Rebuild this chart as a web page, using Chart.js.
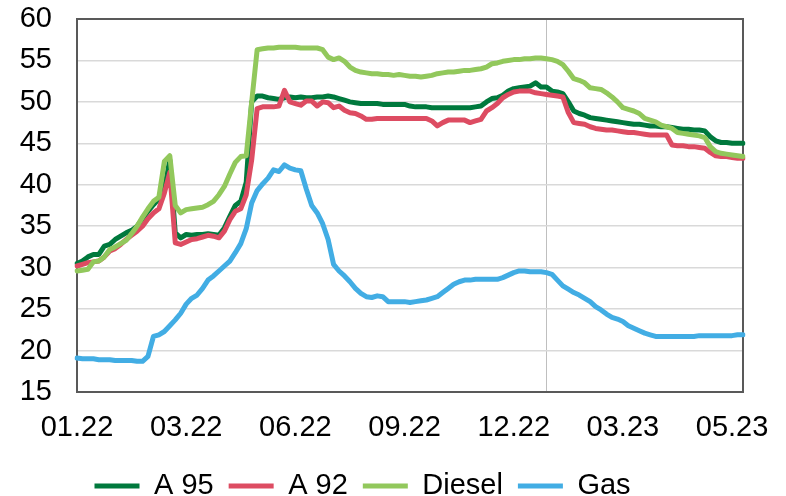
<!DOCTYPE html>
<html>
<head>
<meta charset="utf-8">
<script src="https://cdn.jsdelivr.net/npm/chart.js@4"></script>
<style>
  html, body { margin: 0; padding: 0; background: #fff; }
  #wrap { width: 786px; height: 496px; }
</style>
</head>
<body>
<div id="wrap"><canvas id="c" width="786" height="496"></canvas></div>
<script>
// Fuel prices, Jan 2022 – May 2023 (one observation per step)
const a95 = [
  30.5, 30.8, 31.3, 31.6, 31.6, 32.6, 32.8, 33.4, 33.8, 34.2,
  34.5, 35.0, 35.9, 36.8, 37.6, 38.3, 39.5, 43.0, 34.2, 33.6,
  34.0, 33.9, 34.0, 34.0, 34.1, 34.0, 33.9, 34.8, 36.2, 37.5,
  38.0, 40.3, 50.0, 50.7, 50.7, 50.5, 50.4, 50.3, 50.5, 50.6,
  50.5, 50.6, 50.5, 50.5, 50.6, 50.6, 50.7, 50.6, 50.4, 50.2,
  50.0, 49.9, 49.8, 49.8, 49.8, 49.8, 49.7, 49.7, 49.7, 49.7,
  49.7, 49.5, 49.4, 49.4, 49.4, 49.3, 49.3, 49.3, 49.3, 49.3,
  49.3, 49.3, 49.3, 49.4, 49.5, 50.0, 50.4, 50.5, 50.8, 51.3,
  51.6, 51.7, 51.8, 51.9, 52.3, 51.8, 51.8, 51.3, 51.2, 51.0,
  50.0, 48.9, 48.6, 48.4, 48.1, 48.0, 47.9, 47.8, 47.7, 47.6,
  47.5, 47.4, 47.3, 47.3, 47.2, 47.1, 47.1, 47.0, 47.0, 46.9,
  46.8, 46.7, 46.7, 46.6, 46.6, 46.5, 45.8, 45.3, 45.1, 45.1,
  45.0, 45.0, 45.0
];
const a92 = [
  30.2, 30.4, 30.6, 30.7, 30.8, 31.3, 32.0, 32.3, 32.8, 33.4,
  33.9, 34.4, 35.0, 35.9, 36.6, 37.1, 39.0, 41.5, 33.0, 32.8,
  33.1, 33.4, 33.5, 33.7, 33.9, 33.8, 33.6, 34.4, 35.8, 36.8,
  37.1, 38.8, 43.0, 49.2, 49.4, 49.4, 49.4, 49.5, 51.4, 50.0,
  49.8, 49.6, 50.1, 50.1, 49.5, 50.0, 49.9, 49.3, 49.5, 49.0,
  48.7, 48.6, 48.3, 47.9, 47.9, 48.0, 48.0, 48.0, 48.0, 48.0,
  48.0, 48.0, 48.0, 48.0, 48.0, 47.7, 47.1, 47.5, 47.8, 47.8,
  47.8, 47.8, 47.5, 47.7, 47.9, 48.9, 49.3, 49.8, 50.5, 50.9,
  51.2, 51.3, 51.3, 51.3, 51.1, 51.0, 50.9, 50.8, 50.7, 50.6,
  48.7, 47.5, 47.4, 47.3, 47.0, 46.8, 46.7, 46.6, 46.6, 46.5,
  46.4, 46.3, 46.3, 46.2, 46.1, 46.0, 46.0, 46.0, 46.0, 44.8,
  44.7, 44.7, 44.6, 44.6, 44.5, 44.4, 43.9, 43.5, 43.4, 43.4,
  43.3, 43.2, 43.2
];
const diesel = [
  29.6, 29.7, 29.8, 30.7, 30.8, 31.3, 32.2, 32.5, 32.9, 33.3,
  34.1, 35.0, 36.1, 37.1, 38.0, 38.5, 42.8, 43.5, 37.5, 36.6,
  37.0, 37.1, 37.2, 37.3, 37.6, 38.0, 38.8, 39.8, 41.3, 42.7,
  43.4, 43.5, 50.0, 56.3, 56.4, 56.5, 56.5, 56.6, 56.6, 56.6,
  56.6, 56.5, 56.5, 56.5, 56.5, 56.3, 55.4, 55.1, 55.3, 54.9,
  54.2, 53.8, 53.6, 53.5, 53.4, 53.4, 53.3, 53.3, 53.2, 53.3,
  53.2, 53.1, 53.1, 53.0, 53.1, 53.2, 53.4, 53.5, 53.6, 53.6,
  53.7, 53.8, 53.8, 53.9, 54.0, 54.2, 54.6, 54.7, 54.9, 55.0,
  55.1, 55.1, 55.2, 55.2, 55.3, 55.3, 55.2, 55.1, 54.9, 54.5,
  53.7, 52.8, 52.6, 52.3, 51.7, 51.6, 51.5, 51.1, 50.6, 50.0,
  49.3, 49.1, 48.9, 48.6, 48.0, 47.8, 47.6, 47.2, 47.0, 46.8,
  46.3, 46.2, 46.1, 46.0, 45.9, 45.7, 44.6, 44.0, 43.8, 43.7,
  43.6, 43.5, 43.4
];
const gas = [
  19.1, 19.0, 19.0, 19.0, 18.9, 18.9, 18.9, 18.8, 18.8, 18.8,
  18.8, 18.7, 18.7, 19.3, 21.7, 21.9, 22.3, 23.0, 23.7, 24.5,
  25.6, 26.3, 26.7, 27.5, 28.5, 29.0, 29.6, 30.2, 30.8, 31.8,
  32.9, 34.7, 37.8, 39.3, 40.1, 40.8, 41.8, 41.6, 42.4, 42.0,
  41.8, 41.7, 39.5, 37.5, 36.6, 35.3, 33.4, 30.4, 29.6, 29.0,
  28.3, 27.5, 26.9, 26.5, 26.4, 26.6, 26.5, 25.9, 25.9, 25.9,
  25.9, 25.8, 25.9, 26.0, 26.1, 26.3, 26.5, 27.0, 27.5, 28.0,
  28.3, 28.5, 28.5, 28.6, 28.6, 28.6, 28.6, 28.6, 28.8, 29.1,
  29.4, 29.6, 29.6, 29.5, 29.5, 29.5, 29.4, 29.2, 28.5, 27.8,
  27.4, 27.0, 26.7, 26.3, 25.9, 25.3, 24.9, 24.4, 24.0, 23.8,
  23.5, 23.0, 22.7, 22.4, 22.1, 21.9, 21.7, 21.7, 21.7, 21.7,
  21.7, 21.7, 21.7, 21.7, 21.8, 21.8, 21.8, 21.8, 21.8, 21.8,
  21.8, 21.9, 21.9
];

// Axis labels: one label every `tickStep` observations
const tickLabels = ['01.22', '03.22', '06.22', '09.22', '12.22', '03.23', '05.23'];
const tickStep = 20;
// Index of the first observation of 2023 (year divider)
const yearStart = 86;

const categories = a95.map((_, i) =>
  i % tickStep === 0 && tickLabels[i / tickStep] !== undefined ? tickLabels[i / tickStep] : '');

const FONT = 'Liberation Sans, Arial, Helvetica, sans-serif';
Chart.defaults.font.family = FONT;
Chart.defaults.font.size = 29;
Chart.defaults.color = '#000';

// Frame around the plot area
const frame = {
  id: 'frame',
  beforeDatasetsDraw(chart) {
    const { ctx, chartArea: a } = chart;
    ctx.save();
    ctx.strokeStyle = '#595959';
    ctx.lineWidth = 2;
    ctx.strokeRect(a.left, a.top, a.right - a.left, a.bottom - a.top);
    ctx.restore();
  }
};

// Legend row placement below the axis labels
const legendPlace = {
  id: 'legendPlace',
  afterLayout(chart) {
    const lg = chart.legend;
    const h = lg.bottom - lg.top;
    lg.left = 79.5;
    lg.top = 456.5;
    lg.bottom = lg.top + h;
  }
};

function line(label, data, color, order) {
  return {
    label, data, order,
    borderColor: color,
    backgroundColor: color,
    borderWidth: 5,
    borderCapStyle: 'round',
    borderJoinStyle: 'round',
    pointRadius: 0,
    pointHoverRadius: 0,
    tension: 0,
    pointStyle: 'line'
  };
}

new Chart(document.getElementById('c'), {
  type: 'line',
  data: {
    labels: categories,
    datasets: [
      line('A 95', a95, '#00793D', 3),
      line('A 92', a92, '#DD4C62', 2),
      line('Diesel', diesel, '#92C85C', 1),
      line('Gas', gas, '#42ADE4', 0)
    ]
  },
  options: {
    responsive: false,
    animation: false,
    layout: { padding: { top: 19, right: 43, left: 0, bottom: 0 } },
    plugins: {
      tooltip: { enabled: false },
      legend: {
        position: 'bottom',
        align: 'start',
        labels: {
          usePointStyle: true,
          pointStyleWidth: 45,
          padding: 15,
          font: { size: 29 },
          color: '#000',
          sort: (a, b) => a.datasetIndex - b.datasetIndex
        }
      }
    },
    scales: {
      x: {
        type: 'category',
        offset: false,
        border: { display: false },
        grid: {
          drawTicks: false,
          lineWidth: 1,
          color: ctx => ctx.index === yearStart ? '#bfbfbf' : 'rgba(0,0,0,0)'
        },
        ticks: {
          autoSkip: false,
          maxRotation: 0,
          minRotation: 0,
          padding: 19,
          font: { size: 29 },
          color: '#000'
        },
        afterFit(s) { s.height = 50; }
      },
      y: {
        min: 15,
        max: 60,
        border: { display: false },
        grid: { drawTicks: false, color: '#d9d9d9', lineWidth: 1.5 },
        ticks: { stepSize: 5, padding: 25, font: { size: 29 }, color: '#000' },
        afterFit(s) {
          s.width = 77;
          s.paddingTop = 0;
          s.paddingBottom = 0;
        }
      }
    }
  },
  plugins: [frame, legendPlace]
});
</script>
</body>
</html>
